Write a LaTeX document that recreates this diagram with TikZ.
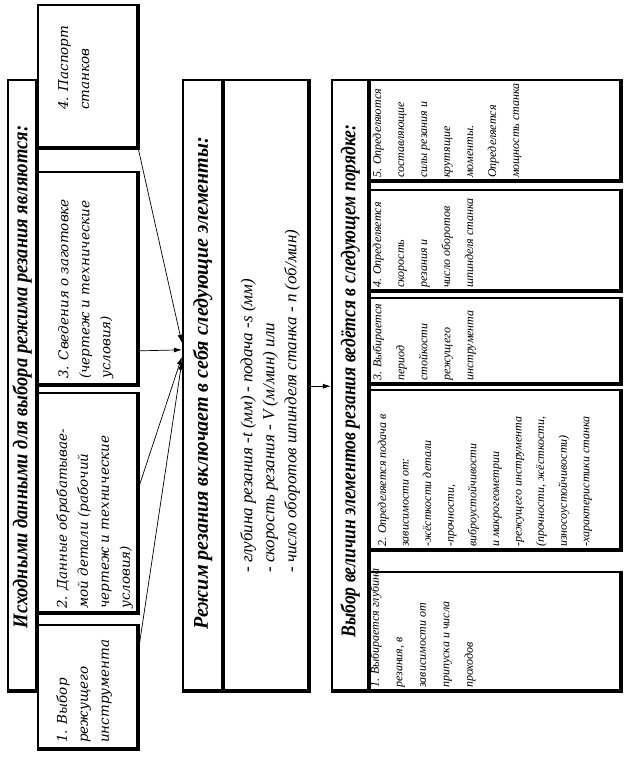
\documentclass[tikz,border=0pt]{standalone}
\usepackage{fontspec}
\setmainfont{Liberation Serif}
\newfontfamily\lbfont{DejaVu Serif}
\usetikzlibrary{arrows.meta,calc}
\begin{document}
\begin{tikzpicture}[x=1pt,y=-1pt,
  frame/.style={draw,line width=2.3pt,inner sep=0pt},
  heavy/.style={line width=3.6pt},
  titletext/.style={rotate=90,inner sep=0pt,font=\fontsize{21}{24}\selectfont\bfseries\itshape},
  lbtext/.style={rotate=90,anchor=north west,align=left,inner sep=0pt,font=\lbfont\itshape\fontsize{13.5}{21}\selectfont},
  rbtext/.style={rotate=90,anchor=north west,align=left,inner sep=0pt,font=\itshape\fontsize{12}{23}\selectfont},
  mbtext/.style={rotate=90,anchor=north west,align=left,inner sep=0pt,font=\itshape\fontsize{17}{22}\selectfont},
  conn/.style={line width=0.7pt,-{Latex[length=8pt,width=5pt]}}]
\fill[white] (0,0) rectangle (637,762);
\useasboundingbox (0,0) rectangle (637,762);
% titles
\node[titletext] (t1l) at (22,377) {\scalebox{0.88}[1]{Исходными данными для выбора режима резания являются:}};
\node[titletext] (mtl) at (202.5,383) {\scalebox{0.955}[1]{Режим резания включает в себя следующие элементы:}};
\node[titletext] (t3l) at (350,381) {\scalebox{0.84}[1]{Выбор величин элементов резания ведётся в следующем порядке:}};
% left box texts
\node[lbtext] (b1l) at (56,743) {1. Выбор\\режущего\\инструмента};
\node[lbtext] (b2l) at (56,609) {2. Данные обрабатывае-\\мой детали (рабочий\\чертеж и технические\\условия)};
\node[lbtext] (b3l) at (58,379) {3. Сведения о заготовке\\(чертеж и технические\\условия)};
\node[lbtext] (b4l) at (58,110) {4. Паспорт\\станков};
% middle content
\node[mbtext] (mbl) at (240,573) {\makebox[180pt][l]{- глубина резания -t (мм)}- подача -s (мм)\\- скорость резания - V (м/мин) или\\- число оборотов шпинделя станка - n (об/мин)};
% right box texts
\node[rbtext] (r5l) at (372.5,178) {5. Определяются\\составляющие\\силы резания и\\крутящие\\моменты.\\Определяется\\мощность станка};
\node[rbtext] (r4l) at (372.5,288) {4. Определяется\\скорость\\резания и\\число оборотов\\шпинделя станка};
\node[rbtext] (r3l) at (372.5,381) {3. Выбирается\\период\\стойкости\\режущего\\инструмента};
\node[rbtext,font=\itshape\fontsize{12}{22.6}\selectfont] (r2l) at (377.5,547) {2. Определяется подача в\\зависимости от:\\-жёсткости детали\\-прочности,\\виброустойчивости\\и макрогеометрии\\-режущего инструмента\\(прочности, жёсткости,\\износоустойчивости)\\-характеристики станка};
\node[rbtext,font=\itshape\fontsize{12}{23.5}\selectfont] (r1l) at (370,688) {1. Выбирается глубина\\резания, в\\зависимости от\\припуска и числа\\проходов};
% block 1
\node[frame,minimum width=28pt,minimum height=610pt] (t1) at (22,385) {};
\node[frame,minimum width=99pt,minimum height=142pt] (b4) at (87.5,76) {};
\node[frame,minimum width=99pt,minimum height=212pt] (b3) at (87.5,278) {};
\node[frame,minimum width=99pt,minimum height=219pt] (b2) at (87.5,502.5) {};
\node[frame,minimum width=99pt,minimum height=123pt] (b1) at (87.5,686.5) {};
% block 2
\node[frame,minimum width=39pt,minimum height=610pt] (mt) at (202.5,385) {};
\node[frame,minimum width=86pt,minimum height=610pt] (mb) at (265,385) {};
% block 3
\node[frame,minimum width=36pt,minimum height=610pt] (t3) at (350,385) {};
\node[frame,minimum width=252pt,minimum height=100pt] (r5) at (494,130) {};
\node[frame,minimum width=252pt,minimum height=100pt] (r4) at (494,240) {};
\node[frame,minimum width=252pt,minimum height=85pt] (r3) at (494,340.5) {};
\node[frame,minimum width=252pt,minimum height=159pt] (r2) at (494,469.5) {};
\node[frame,minimum width=252pt,minimum height=118pt] (r1) at (494,631) {};
\foreach \n in {t1,b1,b2,b3,b4,mt,mb,t3,r1,r2,r3,r4,r5}
  \draw[heavy] (\n.north east) -- (\n.south east) -- (\n.south west);
% connectors
\coordinate (s1) at ($(b1.north east)!0.23!(b1.south east)$);
\coordinate (s2) at ($(b2.north east)!0.44!(b2.south east)$);
\coordinate (s3) at ($(b3.north east)!0.84!(b3.south east)$);
\coordinate (e1) at ($(mt.north west)!0.462!(mt.south west)$);
\coordinate (e2) at ($(mt.north west)!0.454!(mt.south west)$);
\coordinate (e3) at ($(mt.north west)!0.4426!(mt.south west)$);
\coordinate (e4) at ($(mt.north west)!0.431!(mt.south west)$);
\draw[conn] (b4.south east) -- (e4);
\draw[conn] (s3) -- (e3);
\draw[conn] (s2) -- (e2);
\draw[conn] (s1) -- (e1);
\coordinate (s5) at ($(mb.north east)!0.502!(mb.south east)$);
\coordinate (e5) at ($(t3.north west)!0.502!(t3.south west)$);
\draw[conn] (s5) -- (e5);
\end{tikzpicture}
\end{document}
